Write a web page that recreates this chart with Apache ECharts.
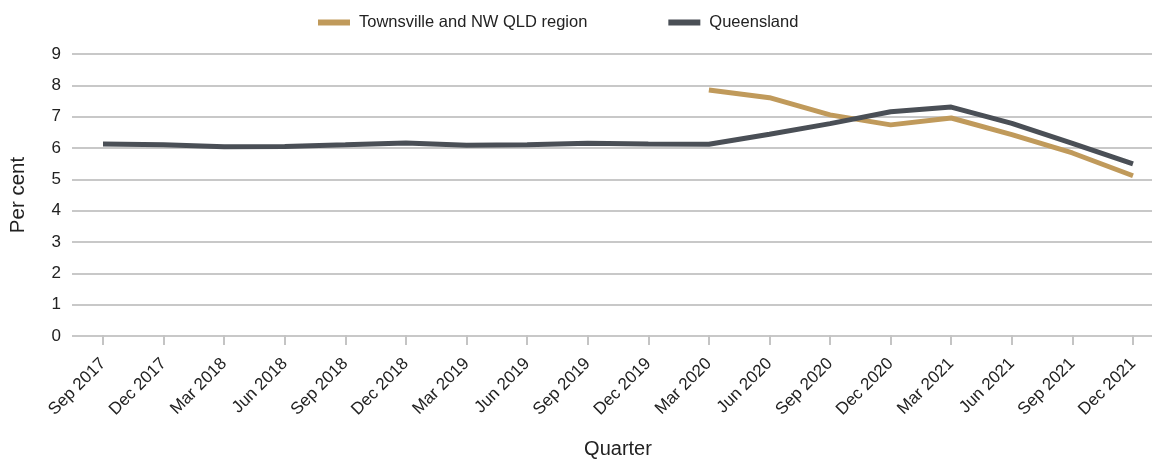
<!DOCTYPE html>
<html>
<head>
<meta charset="utf-8">
<script src="https://cdn.jsdelivr.net/npm/echarts@6/dist/echarts.min.js"></script>
<style>
  html, body { margin: 0; padding: 0; background: #fff; }
  #chart { width: 1152px; height: 464px; }
</style>
</head>
<body>
<div id="chart"></div>
<script>
// quarters on the x axis
const quarters = [
  'Sep 2017', 'Dec 2017', 'Mar 2018', 'Jun 2018', 'Sep 2018', 'Dec 2018',
  'Mar 2019', 'Jun 2019', 'Sep 2019', 'Dec 2019', 'Mar 2020', 'Jun 2020',
  'Sep 2020', 'Dec 2020', 'Mar 2021', 'Jun 2021', 'Sep 2021', 'Dec 2021'
]
// regional series only starts in Mar 2020
const townsville = [
  null, null, null, null, null, null, null, null, null, null,
  7.85, 7.6, 7.05, 6.73, 6.95, 6.42, 5.83, 5.1
]
const queensland = [
  6.12, 6.09, 6.03, 6.04, 6.09, 6.15, 6.08, 6.09, 6.14, 6.12,
  6.11, 6.43, 6.77, 7.15, 7.3, 6.78, 6.14, 5.48
]
const yTicks = { min: 0, max: 9, interval: 1 }

const font = 'Liberation Sans, Arial, sans-serif'
const chart = echarts.init(document.getElementById('chart'))

chart.setOption({
  animation: false,
  textStyle: { fontFamily: font },
  legend: {
    top: 9,
    left: 313,
    itemWidth: 32,
    itemHeight: 6,
    itemGap: 81,
    icon: 'rect',
    textStyle: { fontSize: 16.5, color: '#222', fontFamily: font, padding: [0, 0, 0, 4] }
  },
  grid: [
    // data grid: first and last quarter sit on the tick positions
    { left: 103, right: 19, top: 54, bottom: 128 },
    // wider grid only for the horizontal grid lines and y labels
    { left: 72, right: 0, top: 54, bottom: 128 }
  ],
  xAxis: [
    {
      type: 'category',
      gridIndex: 0,
      data: quarters,
      boundaryGap: false,
      name: 'Quarter',
      nameLocation: 'middle',
      nameGap: 104,
      nameTextStyle: { fontSize: 20, color: '#222', fontFamily: font },
      axisLine: { show: false },
      axisTick: { show: true, length: 10, lineStyle: { color: '#c4c4c4', width: 2 } },
      axisLabel: { rotate: 45, fontSize: 17, color: '#222', margin: 26, fontFamily: font }
    },
    { type: 'value', gridIndex: 1, show: false, min: 0, max: 1 }
  ],
  yAxis: [
    { type: 'value', gridIndex: 0, ...yTicks, show: false },
    {
      type: 'value',
      gridIndex: 1,
      ...yTicks,
      name: 'Per cent',
      nameLocation: 'middle',
      nameGap: 43,
      nameTextStyle: { fontSize: 20.5, color: '#222', fontFamily: font },
      axisLine: { show: false },
      axisTick: { show: false },
      axisLabel: { fontSize: 17, color: '#222', margin: 11, fontFamily: font },
      splitLine: { lineStyle: { color: '#c8c8c8', width: 2 } }
    }
  ],
  series: [
    {
      name: 'Townsville and NW QLD region',
      type: 'line',
      data: townsville,
      showSymbol: false,
      lineStyle: { color: '#C09A5B', width: 5 },
      itemStyle: { color: '#C09A5B' },
      z: 3
    },
    {
      name: 'Queensland',
      type: 'line',
      data: queensland,
      showSymbol: false,
      lineStyle: { color: '#4A4F56', width: 5 },
      itemStyle: { color: '#4A4F56' },
      z: 4
    }
  ]
})
</script>
</body>
</html>
